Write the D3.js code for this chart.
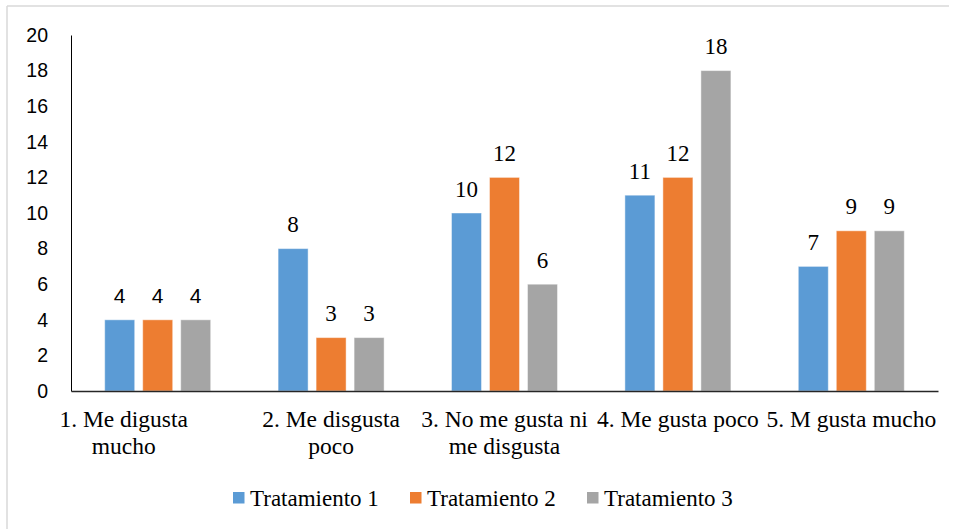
<!DOCTYPE html>
<html>
<head>
<meta charset="utf-8">
<script src="https://cdn.jsdelivr.net/npm/d3@7"></script>
<style>
  html, body { margin: 0; padding: 0; background: #fff; }
  svg { display: block; }
  .serif-text { font-family: "Liberation Serif", "Times New Roman", serif; }
  .sans-text { font-family: "Liberation Sans", Arial, sans-serif; }
</style>
</head>
<body>
<svg id="chart" width="958" height="529"></svg>
<script>
// Response categories on the x axis
const categories = [
  "1. Me digusta mucho",
  "2. Me disgusta poco",
  "3. No me gusta ni me disgusta",
  "4. Me gusta poco",
  "5. M gusta mucho"
];
// Treatment series
const seriesNames = ["Tratamiento 1", "Tratamiento 2", "Tratamiento 3"];
const tratamiento1 = [4, 8, 10, 11, 7];
const tratamiento2 = [4, 3, 12, 12, 9];
const tratamiento3 = [4, 3, 6, 18, 9];
const seriesValues = [tratamiento1, tratamiento2, tratamiento3];
const yTicks = [0, 2, 4, 6, 8, 10, 12, 14, 16, 18, 20];

const colors = ["#5B9BD5", "#ED7D31", "#A5A5A5"];

const svg = d3.select("#chart");
const plot = { left: 71, right: 938, top: 35, bottom: 391 };

// Chart frame (only the top and left edges fall inside the page)
svg.append("line").attr("x1", 7).attr("x2", 949).attr("y1", 6).attr("y2", 6)
  .attr("stroke", "#d9d9d9").attr("stroke-width", 1.5);
svg.append("line").attr("x1", 7).attr("x2", 7).attr("y1", 6).attr("y2", 529)
  .attr("stroke", "#d9d9d9").attr("stroke-width", 1.5);

const x0 = d3.scaleBand().domain(categories).range([plot.left, plot.right]).padding(0);
const groupPad = 33.7;
const x1 = d3.scaleBand().domain(seriesNames)
  .range([groupPad, x0.bandwidth() - groupPad])
  .paddingInner(8 / 38).paddingOuter(0);
const y = d3.scaleLinear().domain([0, 20]).range([plot.bottom, plot.top]);

// Y axis: line and labels, no tick marks
const yAxis = d3.axisLeft(y).tickValues(yTicks).tickSize(0).tickPadding(23);
const gy = svg.append("g").attr("transform", `translate(${plot.left},0)`).call(yAxis);
gy.attr("font-family", null).attr("font-size", null);
gy.select(".domain").attr("stroke", "#000").attr("stroke-width", 1);
gy.selectAll(".tick text")
  .attr("class", "sans-text").style("font-size", "19.5px").attr("fill", "#000");

// Bars
const rows = categories.map((c, i) => ({
  cat: c, idx: i,
  vals: seriesNames.map((s, j) => ({ s, j, v: seriesValues[j][i] }))
}));

const groups = svg.append("g").selectAll("g").data(rows).join("g")
  .attr("transform", d => `translate(${x0(d.cat)},0)`);

groups.selectAll("rect").data(d => d.vals).join("rect")
  .attr("x", d => x1(d.s))
  .attr("width", x1.bandwidth())
  .attr("y", d => y(d.v))
  .attr("height", d => y(0) - y(d.v))
  .attr("fill", d => colors[d.j])
  .attr("stroke", "#ffffff").attr("stroke-opacity", 0.45).attr("stroke-width", 1);

// Value labels (the first group is set in a sans face)
groups.each(function (row) {
  d3.select(this).selectAll("text.val").data(row.vals).join("text")
    .attr("class", row.idx === 0 ? "val sans-text" : "val serif-text")
    .attr("x", d => x1(d.s) + x1.bandwidth() / 2)
    .attr("y", d => y(d.v) - 16.5)
    .attr("text-anchor", "middle")
    .style("font-size", row.idx === 0 ? "21px" : "23px")
    .attr("fill", "#000")
    .text(d => d.v);
});

// X axis baseline
const xAxis = d3.axisBottom(x0).tickSize(0).tickFormat("");
const gx = svg.append("g").attr("transform", `translate(0,${plot.bottom})`).call(xAxis);
gx.select(".domain").attr("stroke", "#262626").attr("stroke-width", 1.4);

// Category labels, wrapped to the band width
const labelFont = "23.5px";
function wrapLines(text, width) {
  const probe = svg.append("text").attr("class", "serif-text").style("font-size", labelFont);
  const words = text.split(" ");
  const lines = [];
  let line = [];
  words.forEach(w => {
    const trial = line.concat([w]).join(" ");
    probe.text(trial);
    if (probe.node().getComputedTextLength() > width && line.length) {
      lines.push(line.join(" "));
      line = [w];
    } else {
      line.push(w);
    }
  });
  if (line.length) lines.push(line.join(" "));
  probe.remove();
  return lines;
}

categories.forEach((c, i) => {
  const lines = wrapLines(c, 174);
  // the first label sits left of its band centre, toward the chart edge
  const cx = x0(c) + x0.bandwidth() / 2 - (i === 0 ? 34 : 0);
  const t = svg.append("text")
    .attr("class", "serif-text")
    .attr("x", cx)
    .attr("y", 427)
    .attr("text-anchor", "middle")
    .style("font-size", labelFont).attr("fill", "#000");
  lines.forEach((l, k) => {
    t.append("tspan").attr("x", cx)
      .attr("dy", k === 0 ? 0 : 27).text(l);
  });
});

// Legend
const legend = svg.append("g").attr("transform", "translate(233,0)");
const items = legend.selectAll("g").data(seriesNames).join("g")
  .attr("transform", (d, i) => `translate(${i * 177},0)`);
items.append("rect").attr("x", 0).attr("y", 492).attr("width", 11.5).attr("height", 11.5)
  .attr("fill", (d, i) => colors[i]);
items.append("text").attr("class", "serif-text").attr("x", 17).attr("y", 506)
  .style("font-size", "23px").attr("fill", "#000")
  .text(d => d);
</script>
</body>
</html>
